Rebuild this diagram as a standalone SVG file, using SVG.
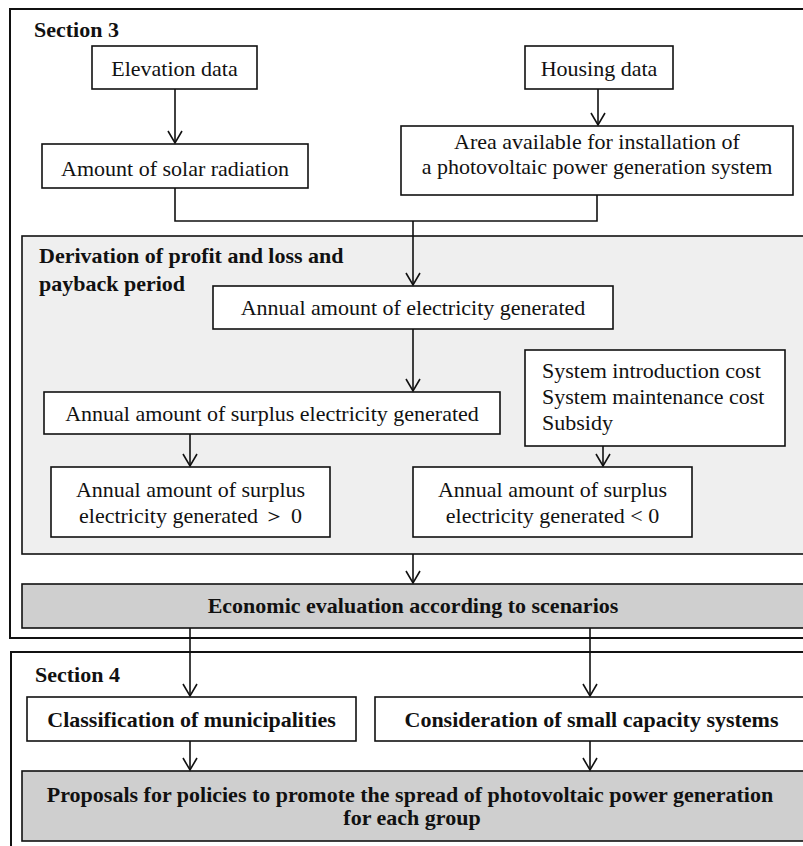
<svg xmlns="http://www.w3.org/2000/svg" width="803" height="846" viewBox="0 0 803 846">
<defs>
<style>
text{font-family:"Liberation Serif","Times New Roman",serif;font-size:22px;fill:#111}
.b{font-weight:bold}
.c{text-anchor:middle}
.box{fill:#fff;stroke:#111;stroke-width:1.6}
.grey{fill:#cfcfcf;stroke:#111;stroke-width:1.6}
.panel{fill:#efefef;stroke:#111;stroke-width:1.6}
.sec{fill:#fff;stroke:#111;stroke-width:2}
.ln{fill:none;stroke:#111;stroke-width:1.6}
</style>
<marker id="ah" markerUnits="userSpaceOnUse" markerWidth="16" markerHeight="18" viewBox="-14 -9 16 18" refX="0" refY="0" orient="auto">
<path d="M-12,-7 L0,0 L-12,7" fill="none" stroke="#111" stroke-width="1.6"/>
</marker>
</defs>
<g id="section3"><rect class="sec" x="10" y="9" width="800" height="629"/><text class="b" x="34" y="37">Section 3</text></g>
<g id="section4"><rect class="sec" x="11" y="652" width="800" height="200"/><text class="b" x="35" y="682">Section 4</text></g>
<g id="derivation"><rect class="panel" x="22" y="236" width="790" height="318"/><text class="b" x="39" y="263">Derivation of profit and loss and</text><text class="b" x="39" y="291">payback period</text></g>
<g id="elevation"><rect class="box" x="92" y="46" width="165" height="43"/><text class="c" x="174.5" y="76">Elevation data</text></g>
<g id="housing"><rect class="box" x="525" y="46" width="148" height="43"/><text class="c" x="599" y="76">Housing data</text></g>
<g id="solar"><rect class="box" x="42" y="144" width="266" height="44"/><text class="c" x="175" y="176">Amount of solar radiation</text></g>
<g id="area"><rect class="box" x="401" y="126" width="392" height="69"/><text class="c" x="597" y="149">Area available for installation of</text><text class="c" x="597" y="174">a photovoltaic power generation system</text></g>
<g id="annual"><rect class="box" x="213" y="286" width="400" height="43"/><text class="c" x="413" y="315">Annual amount of electricity generated</text></g>
<g id="surplus"><rect class="box" x="44" y="392" width="456" height="42"/><text class="c" x="272" y="421">Annual amount of surplus electricity generated</text></g>
<g id="costs"><rect class="box" x="525" y="350" width="260" height="96"/><text x="542" y="378">System introduction cost</text><text x="542" y="404">System maintenance cost</text><text x="542" y="430">Subsidy</text></g>
<g id="positive"><rect class="box" x="51" y="467" width="279" height="70"/><text class="c" x="190.5" y="497">Annual amount of surplus</text><text class="c" x="190.5" y="523">electricity generated ＞ 0</text></g>
<g id="negative"><rect class="box" x="413" y="467" width="279" height="70"/><text class="c" x="552.5" y="497">Annual amount of surplus</text><text class="c" x="552.5" y="523">electricity generated &lt; 0</text></g>
<g id="economic"><rect class="grey" x="22" y="584" width="790" height="44"/><text class="b c" x="413" y="613">Economic evaluation according to scenarios</text></g>
<g id="classification"><rect class="box" x="27" y="697" width="329" height="44"/><text class="b c" x="191.5" y="727">Classification of municipalities</text></g>
<g id="consideration"><rect class="box" x="375" y="697" width="433" height="44"/><text class="b c" x="591.5" y="727">Consideration of small capacity systems</text></g>
<g id="proposals"><rect class="grey" x="22" y="771" width="790" height="70"/><text class="b c" x="410" y="802">Proposals for policies to promote the spread of photovoltaic power generation</text><text class="b c" x="412" y="825">for each group</text></g>
<g id="connectors">
<path class="ln" d="M175,89 V143" marker-end="url(#ah)"/>
<path class="ln" d="M598,89 V125" marker-end="url(#ah)"/>
<path class="ln" d="M175,188 V221 H597 V195"/>
<path class="ln" d="M413,221 V285" marker-end="url(#ah)"/>
<path class="ln" d="M413,329 V391" marker-end="url(#ah)"/>
<path class="ln" d="M190,434 V466" marker-end="url(#ah)"/>
<path class="ln" d="M603,446 V466" marker-end="url(#ah)"/>
<path class="ln" d="M413,554 V583" marker-end="url(#ah)"/>
<path class="ln" d="M190,628 V696" marker-end="url(#ah)"/>
<path class="ln" d="M590,628 V696" marker-end="url(#ah)"/>
<path class="ln" d="M190,741 V770" marker-end="url(#ah)"/>
<path class="ln" d="M590,741 V770" marker-end="url(#ah)"/>
</g>
</svg>
